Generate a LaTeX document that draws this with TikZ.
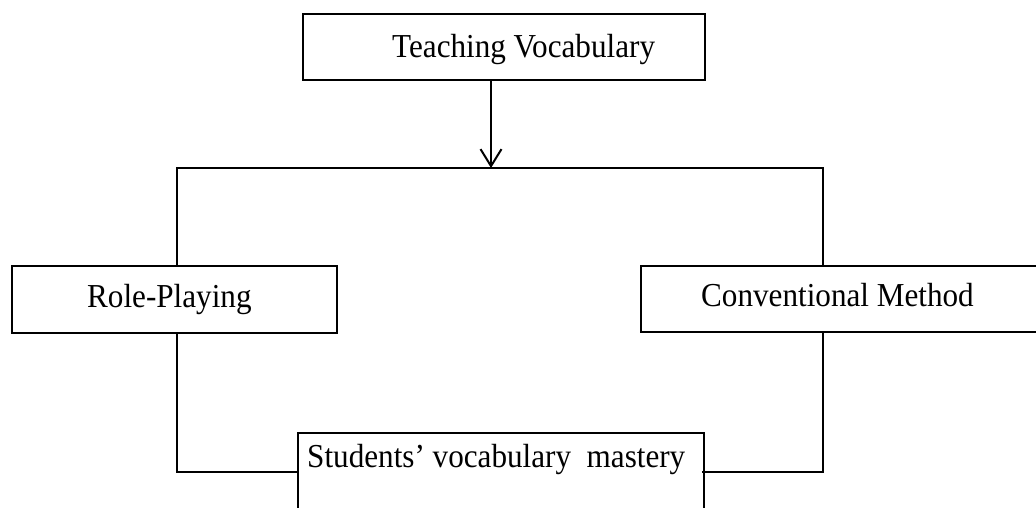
\documentclass[tikz,border=0pt]{standalone}
\usepackage{fontspec}
\setmainfont{Liberation Serif}[FakeStretch=0.93]
\usetikzlibrary{arrows.meta}
\begin{document}
\begin{tikzpicture}[x=1pt,y=-1pt,
  boxnode/.style={draw=black,line width=1.6pt,rectangle,inner sep=0pt,anchor=north west},
  lbl/.style={font=\fontsize{33.5}{40}\selectfont,inner sep=0pt,anchor=base west},
  conn/.style={draw=black,line width=1.5pt},
  arr/.style={draw=black,line width=2pt,-{Straight Barb[length=17pt,width=21pt,line width=2pt]}}]
\clip (0,0) rectangle (1036,507);
\fill[white] (0,0) rectangle (1036,507);
% boxes
\node[boxnode,minimum width=402pt,minimum height=66pt] (tv) at (302,13) {};
\node[boxnode,minimum width=325pt,minimum height=67pt] (rp) at (11,265) {};
\node[boxnode,minimum width=440pt,minimum height=66pt] (cm) at (640,265) {};
\node[boxnode,minimum width=406pt,minimum height=120pt] (sv) at (297,432) {};
% texts
\node[lbl] (tvt) at (392,57) {Teaching Vocabulary};
\node[lbl] (rpt) at (87,307) {Role-Playing};
\node[lbl] (cmt) at (701,306) {Conventional Method};
\node[lbl] (svt) at (307,467) {Students’ vocabulary\ \ mastery};
% junctions
\coordinate (jm) at (491,168);
\coordinate (jl) at (177,168);
\coordinate (jr) at (823,168);
\coordinate (bl) at (177,472);
\coordinate (br) at (823,472);
% connectors
\draw[arr] (tv.south -| jm) -- (jm);
\draw[conn] (rp.north -| jl) -- (jl) -- (jr) -- (cm.north -| jr);
\draw[conn] (rp.south -| bl) -- (bl) -- (bl -| sv.west);
\draw[conn] (cm.south -| br) -- (br) -- ([xshift=-3pt]br -| sv.east);
\end{tikzpicture}
\end{document}
